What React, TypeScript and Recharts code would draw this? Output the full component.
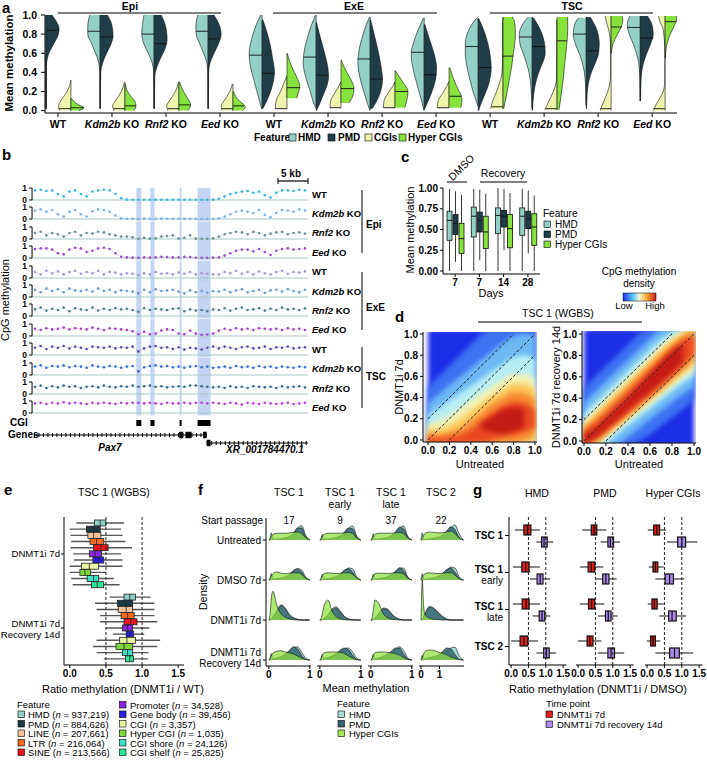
import React from "react";
import {
  ComposedChart,
  BarChart,
  ScatterChart,
  Area,
  Bar,
  Scatter,
  XAxis,
  YAxis,
  ReferenceLine,
  ReferenceArea,
} from "recharts";

const FONT = "'Liberation Sans', Arial, Helvetica, sans-serif";

// ---------- panel a: split violins (knots = [methylation, relative density]) ----------
const aLabels = ["WT", "Kdm2b KO", "Rnf2 KO", "Eed KO", "WT", "Kdm2b KO", "Rnf2 KO", "Eed KO", "WT", "Kdm2b KO", "Rnf2 KO", "Eed KO"];
const aYTicks = [0, 0.2, 0.4, 0.6, 0.8, 1];

const vHMD = [
  [[0.02, 0.02], [0.45, 0.02], [0.55, 0.08], [0.62, 0.22], [0.7, 0.5], [0.8, 0.87], [0.88, 0.97], [0.95, 0.9], [1.0, 0.82]],
  [[0.02, 0.02], [0.4, 0.03], [0.5, 0.1], [0.6, 0.35], [0.7, 0.65], [0.8, 0.95], [0.88, 0.95], [1.0, 0.8]],
  [[0.02, 0.02], [0.4, 0.04], [0.5, 0.15], [0.6, 0.45], [0.7, 0.8], [0.8, 0.95], [0.9, 0.9], [1.0, 0.78]],
  [[0.02, 0.02], [0.4, 0.03], [0.5, 0.1], [0.6, 0.35], [0.7, 0.65], [0.8, 0.92], [0.88, 0.95], [1.0, 0.8]],
  [[0.02, 0.05], [0.1, 0.2], [0.2, 0.4], [0.3, 0.6], [0.4, 0.8], [0.5, 0.95], [0.6, 1.0], [0.7, 0.9], [0.8, 0.7], [0.9, 0.45], [1.0, 0.1]],
  [[0.03, 0.05], [0.1, 0.25], [0.2, 0.45], [0.3, 0.7], [0.4, 0.9], [0.5, 1.0], [0.6, 0.95], [0.75, 0.7], [0.9, 0.35], [1.0, 0.05]],
  [[0.0, 0.03], [0.05, 0.15], [0.2, 0.5], [0.35, 0.8], [0.5, 0.95], [0.6, 0.9], [0.75, 0.65], [0.9, 0.3], [0.98, 0.05]],
  [[0.0, 0.02], [0.05, 0.1], [0.2, 0.4], [0.35, 0.7], [0.5, 0.95], [0.6, 1.0], [0.7, 0.85], [0.85, 0.45], [0.97, 0.05]],
  [[0.05, 0.03], [0.1, 0.15], [0.2, 0.4], [0.3, 0.6], [0.45, 0.85], [0.6, 1.0], [0.7, 1.0], [0.8, 0.85], [0.9, 0.5], [0.97, 0.1]],
  [[0.02, 0.02], [0.1, 0.04], [0.25, 0.1], [0.4, 0.25], [0.5, 0.45], [0.6, 0.7], [0.7, 0.95], [0.8, 1.0], [0.9, 0.75], [0.98, 0.3]],
  [[0.05, 0.02], [0.2, 0.04], [0.35, 0.1], [0.5, 0.3], [0.6, 0.55], [0.7, 0.85], [0.8, 1.0], [0.9, 0.9], [0.97, 0.6]],
  [[0.1, 0.02], [0.35, 0.04], [0.5, 0.12], [0.6, 0.3], [0.7, 0.55], [0.8, 0.85], [0.9, 1.0], [0.99, 0.8]],
];
const mHMD = [[0.87, 0.97], [0.83, 0.95], [0.8, 0.95], [0.83, 0.93], [0.58, 1.0], [0.56, 0.98], [0.54, 0.95], [0.61, 1.0], [0.67, 1.0], [0.77, 1.0], [0.8, 1.0], [0.87, 1.0]];

const vPMD = [
  [[0.02, 0.02], [0.45, 0.02], [0.55, 0.1], [0.62, 0.28], [0.7, 0.6], [0.8, 0.95], [0.86, 1.0], [0.93, 0.8], [1.0, 0.45]],
  [[0.02, 0.02], [0.4, 0.05], [0.5, 0.2], [0.6, 0.5], [0.7, 0.85], [0.78, 1.0], [0.9, 0.9], [1.0, 0.55]],
  [[0.02, 0.02], [0.35, 0.05], [0.45, 0.2], [0.55, 0.5], [0.65, 0.85], [0.75, 1.0], [0.9, 0.85], [1.0, 0.55]],
  [[0.02, 0.02], [0.4, 0.04], [0.5, 0.15], [0.6, 0.45], [0.7, 0.8], [0.8, 1.0], [0.9, 0.85], [1.0, 0.45]],
  [[0.02, 0.05], [0.1, 0.35], [0.2, 0.65], [0.3, 0.85], [0.4, 0.95], [0.55, 0.8], [0.7, 0.6], [0.85, 0.3], [0.95, 0.05]],
  [[0.0, 0.02], [0.05, 0.2], [0.15, 0.5], [0.25, 0.8], [0.35, 0.95], [0.45, 0.9], [0.6, 0.65], [0.8, 0.25], [0.92, 0.03]],
  [[0.02, 0.15], [0.1, 0.5], [0.2, 0.8], [0.33, 0.95], [0.45, 0.85], [0.6, 0.65], [0.8, 0.3], [0.95, 0.03]],
  [[0.02, 0.05], [0.1, 0.3], [0.2, 0.6], [0.35, 0.9], [0.45, 0.95], [0.6, 0.75], [0.75, 0.4], [0.9, 0.05]],
  [[0.0, 0.03], [0.05, 0.15], [0.15, 0.45], [0.3, 0.85], [0.45, 1.0], [0.55, 0.95], [0.7, 0.75], [0.85, 0.4], [0.96, 0.05]],
  [[0.0, 0.02], [0.1, 0.06], [0.25, 0.2], [0.4, 0.5], [0.5, 0.8], [0.6, 1.0], [0.7, 0.95], [0.85, 0.6], [0.97, 0.1]],
  [[0.02, 0.02], [0.1, 0.04], [0.25, 0.12], [0.4, 0.4], [0.5, 0.7], [0.6, 0.95], [0.7, 1.0], [0.85, 0.8], [0.98, 0.3]],
  [[0.1, 0.02], [0.35, 0.07], [0.5, 0.25], [0.6, 0.5], [0.7, 0.8], [0.8, 1.0], [0.9, 0.9], [0.99, 0.55]],
];
const mPMD = [[0.84, 1.0], [0.77, 1.0], [0.7, 0.97], [0.75, 0.93], [0.39, 0.95], [0.37, 0.95], [0.33, 0.95], [0.375, 0.95], [0.45, 1.0], [0.67, 1.0], [0.625, 0.98], [0.76, 1.0]];

const vCGI = [
  [[0.0, 0.9], [0.05, 0.95], [0.1, 0.8], [0.15, 0.55], [0.2, 0.3], [0.27, 0.08], [0.32, 0.02]],
  [[0.0, 0.85], [0.05, 0.95], [0.1, 0.75], [0.15, 0.5], [0.2, 0.28], [0.3, 0.04]],
  [[0.0, 0.85], [0.05, 0.95], [0.1, 0.75], [0.15, 0.5], [0.2, 0.28], [0.3, 0.04]],
  [[0.0, 0.85], [0.05, 0.9], [0.1, 0.7], [0.15, 0.45], [0.2, 0.25], [0.28, 0.04]],
  [[0.02, 0.9], [0.1, 0.85], [0.2, 0.5], [0.3, 0.2], [0.36, 0.02]],
  [[0.03, 0.85], [0.1, 0.8], [0.18, 0.5], [0.25, 0.2], [0.3, 0.02]],
  [[0.03, 0.9], [0.1, 0.85], [0.18, 0.55], [0.25, 0.2], [0.3, 0.02]],
  [[0.03, 0.9], [0.1, 0.85], [0.18, 0.5], [0.25, 0.2], [0.3, 0.02]],
  [[0.02, 0.95], [0.1, 0.8], [0.2, 0.5], [0.3, 0.25], [0.4, 0.08], [0.6, 0.03], [0.9, 0.03], [0.97, 0.02]],
  [[0.01, 0.95], [0.08, 0.7], [0.15, 0.45], [0.25, 0.15], [0.35, 0.04], [0.7, 0.02], [0.95, 0.02]],
  [[0.0, 0.85], [0.05, 0.7], [0.15, 0.4], [0.25, 0.15], [0.35, 0.05], [0.7, 0.05], [0.85, 0.2], [0.95, 0.4], [0.99, 0.45]],
  [[0.0, 0.9], [0.05, 0.75], [0.12, 0.45], [0.2, 0.15], [0.3, 0.03], [0.6, 0.02], [0.85, 0.15], [0.95, 0.45], [0.99, 0.5]],
];
const mCGI = [[0.02, 0.92], [0.02, 0.87], [0.02, 0.87], [0.02, 0.87], [0.02, 0.9], [0.03, 0.85], [0.03, 0.9], [0.03, 0.9], [0.04, 0.9], [0.02, 0.92], [0.02, 0.82], [0.02, 0.9]];

const vHYP = [
  [[0.0, 0.6], [0.03, 1.0], [0.06, 0.6], [0.1, 0.2], [0.13, 0.04]],
  [[0.0, 0.7], [0.05, 0.85], [0.1, 0.75], [0.15, 0.45], [0.2, 0.2], [0.28, 0.04]],
  [[0.0, 0.7], [0.06, 0.9], [0.12, 0.7], [0.2, 0.35], [0.3, 0.05]],
  [[0.0, 0.75], [0.04, 0.95], [0.1, 0.5], [0.15, 0.2], [0.2, 0.04]],
  [[0.13, 0.75], [0.2, 0.9], [0.25, 1.0], [0.35, 0.75], [0.45, 0.4], [0.55, 0.12], [0.6, 0.02]],
  [[0.08, 0.6], [0.15, 0.9], [0.23, 1.0], [0.3, 0.85], [0.4, 0.45], [0.5, 0.1], [0.53, 0.02]],
  [[0.03, 0.75], [0.1, 0.9], [0.2, 1.0], [0.3, 0.6], [0.38, 0.2], [0.42, 0.02]],
  [[0.03, 0.9], [0.1, 1.0], [0.15, 0.95], [0.25, 0.6], [0.35, 0.3], [0.45, 0.05]],
  [[0.02, 0.05], [0.15, 0.25], [0.3, 0.45], [0.45, 0.65], [0.6, 0.8], [0.8, 0.95], [0.92, 0.9], [0.98, 0.7]],
  [[0.01, 0.15], [0.15, 0.3], [0.3, 0.45], [0.5, 0.6], [0.7, 0.75], [0.85, 0.82], [0.98, 0.82]],
  [[0.6, 0.02], [0.7, 0.15], [0.8, 0.5], [0.88, 0.8], [0.95, 0.9], [0.99, 0.85]],
  [[0.55, 0.02], [0.7, 0.15], [0.8, 0.4], [0.9, 0.75], [0.97, 0.9], [0.99, 0.85]],
];
const mHYP = [[0.03, 1.0], [0.05, 0.85], [0.06, 0.9], [0.05, 0.85], [0.24, 1.0], [0.23, 1.0], [0.2, 1.0], [0.15, 0.97], [0.57, 0.8], [0.73, 0.77], [0.875, 0.85], [0.93, 0.88]];

// ---------- panel b: CpG methylation tracks (48 bins across the locus) ----------
const bLabels = ["WT", "Kdm2b KO", "Rnf2 KO", "Eed KO", "WT", "Kdm2b KO", "Rnf2 KO", "Eed KO", "WT", "Kdm2b KO", "Rnf2 KO", "Eed KO"];
const bColors = ["#3cb6dc", "#7eb2e2", "#6e8e9a", "#9a50c8", "#a696d2", "#6a9acc", "#4f7f8c", "#a244c8", "#5c4aa6", "#3c6cd8", "#3c6c8e", "#b444d2"];
const bTracks = [
  [0.8, 0.85, 0.75, 0.8, 0.5, 0.3, 0.7, 0.8, 0.5, 0.3, 0.7, 0.8, 0.85, 0.8, 0.5, 0.15,
    0.03, 0.02, 0.02, 0.02, 0.02, 0.03, 0.02, 0.02, 0.02, 0.03, 0.02, 0.02, 0.02, 0.02, 0.02, 0.03,
    0.1, 0.3, 0.5, 0.6, 0.7, 0.75, 0.6, 0.7, 0.4, 0.2, 0.6, 0.8, 0.8, 0.75, 0.85, 0.8],
  [0.7, 0.8, 0.6, 0.75, 0.4, 0.2, 0.6, 0.75, 0.4, 0.2, 0.65, 0.8, 0.75, 0.6, 0.3, 0.05,
    0.02, 0.02, 0.02, 0.03, 0.02, 0.02, 0.03, 0.02, 0.02, 0.02, 0.03, 0.02, 0.02, 0.02, 0.02, 0.02,
    0.05, 0.2, 0.4, 0.6, 0.7, 0.6, 0.5, 0.75, 0.35, 0.15, 0.5, 0.75, 0.7, 0.6, 0.8, 0.7],
  [0.5, 0.6, 0.3, 0.5, 0.4, 0.2, 0.5, 0.6, 0.3, 0.5, 0.45, 0.6, 0.55, 0.4, 0.3, 0.2,
    0.2, 0.15, 0.02, 0.1, 0.03, 0.05, 0.2, 0.25, 0.3, 0.05, 0.1, 0.3, 0.03, 0.02, 0.02, 0.05,
    0.2, 0.4, 0.5, 0.6, 0.55, 0.4, 0.6, 0.5, 0.3, 0.45, 0.55, 0.6, 0.4, 0.5, 0.55, 0.45],
  [0.75, 0.8, 0.8, 0.7, 0.4, 0.3, 0.7, 0.85, 0.8, 0.5, 0.6, 0.8, 0.85, 0.75, 0.4, 0.1,
    0.05, 0.03, 0.02, 0.05, 0.03, 0.05, 0.1, 0.08, 0.05, 0.05, 0.1, 0.08, 0.02, 0.02, 0.02, 0.03,
    0.05, 0.2, 0.4, 0.6, 0.7, 0.7, 0.55, 0.75, 0.5, 0.25, 0.6, 0.75, 0.8, 0.7, 0.75, 0.8],
  [0.5, 0.3, 0.6, 0.4, 0.55, 0.3, 0.5, 0.6, 0.35, 0.5, 0.4, 0.6, 0.3, 0.5, 0.45, 0.3,
    0.4, 0.35, 0.25, 0.4, 0.3, 0.5, 0.35, 0.4, 0.3, 0.45, 0.35, 0.5, 0.3, 0.4, 0.35, 0.3,
    0.3, 0.5, 0.4, 0.6, 0.35, 0.5, 0.3, 0.55, 0.4, 0.3, 0.5, 0.6, 0.35, 0.5, 0.45, 0.55],
  [0.6, 0.4, 0.7, 0.5, 0.65, 0.4, 0.7, 0.55, 0.5, 0.6, 0.45, 0.7, 0.5, 0.6, 0.4, 0.55,
    0.5, 0.45, 0.3, 0.6, 0.4, 0.65, 0.5, 0.55, 0.6, 0.45, 0.3, 0.55, 0.4, 0.5, 0.35, 0.5,
    0.45, 0.6, 0.4, 0.55, 0.65, 0.4, 0.5, 0.6, 0.35, 0.55, 0.6, 0.45, 0.65, 0.5, 0.4, 0.6],
  [0.55, 0.7, 0.45, 0.6, 0.5, 0.7, 0.4, 0.65, 0.55, 0.5, 0.7, 0.45, 0.6, 0.5, 0.65, 0.55,
    0.6, 0.5, 0.35, 0.65, 0.5, 0.6, 0.55, 0.5, 0.6, 0.65, 0.4, 0.55, 0.45, 0.5, 0.4, 0.55,
    0.5, 0.65, 0.45, 0.6, 0.7, 0.5, 0.55, 0.65, 0.45, 0.6, 0.5, 0.7, 0.55, 0.6, 0.5, 0.65],
  [0.6, 0.5, 0.65, 0.55, 0.6, 0.7, 0.55, 0.65, 0.6, 0.55, 0.7, 0.6, 0.5, 0.65, 0.6, 0.55,
    0.5, 0.4, 0.15, 0.35, 0.15, 0.2, 0.45, 0.55, 0.5, 0.2, 0.15, 0.45, 0.2, 0.1, 0.12, 0.2,
    0.45, 0.6, 0.5, 0.65, 0.55, 0.6, 0.5, 0.65, 0.6, 0.55, 0.6, 0.5, 0.65, 0.55, 0.6, 0.5],
  [0.6, 0.75, 0.5, 0.7, 0.6, 0.75, 0.55, 0.7, 0.6, 0.5, 0.7, 0.65, 0.6, 0.7, 0.55, 0.65,
    0.6, 0.7, 0.3, 0.55, 0.7, 0.75, 0.6, 0.65, 0.5, 0.65, 0.45, 0.6, 0.55, 0.45, 0.6, 0.7,
    0.55, 0.7, 0.6, 0.5, 0.65, 0.7, 0.55, 0.6, 0.7, 0.5, 0.65, 0.6, 0.7, 0.55, 0.6, 0.65],
  [0.7, 0.8, 0.6, 0.75, 0.7, 0.8, 0.65, 0.75, 0.7, 0.6, 0.8, 0.7, 0.65, 0.75, 0.7, 0.6,
    0.7, 0.75, 0.3, 0.65, 0.75, 0.8, 0.7, 0.75, 0.65, 0.7, 0.6, 0.7, 0.75, 0.65, 0.7, 0.6,
    0.65, 0.7, 0.6, 0.75, 0.65, 0.7, 0.6, 0.75, 0.65, 0.7, 0.6, 0.7, 0.65, 0.6, 0.7, 0.65],
  [0.6, 0.7, 0.5, 0.65, 0.55, 0.7, 0.6, 0.65, 0.5, 0.6, 0.65, 0.55, 0.7, 0.6, 0.55, 0.65,
    0.6, 0.7, 0.6, 0.65, 0.7, 0.6, 0.65, 0.55, 0.6, 0.65, 0.6, 0.7, 0.7, 0.65, 0.6, 0.55,
    0.6, 0.5, 0.65, 0.55, 0.6, 0.5, 0.65, 0.6, 0.55, 0.6, 0.5, 0.65, 0.55, 0.6, 0.65, 0.55],
  [0.8, 0.85, 0.75, 0.85, 0.8, 0.9, 0.8, 0.85, 0.8, 0.75, 0.85, 0.8, 0.85, 0.8, 0.75, 0.85,
    0.8, 0.85, 0.85, 0.8, 0.85, 0.8, 0.75, 0.85, 0.8, 0.8, 0.85, 0.8, 0.85, 0.85, 0.8, 0.85,
    0.8, 0.75, 0.85, 0.8, 0.7, 0.85, 0.8, 0.75, 0.85, 0.8, 0.75, 0.8, 0.85, 0.75, 0.8, 0.85],
];
const cgiRegions = [[0.378, 0.396], [0.429, 0.444], [0.535, 0.542], [0.6, 0.647]];
const pax7Span = [0.007, 0.633];
const xrSpan = [0.633, 1.0];
const pax7Exons = [[0.533, 0.548], [0.556, 0.578], [0.62, 0.633]];
const xrExons = [[0.633, 0.647]];

// ---------- panel c: boxplots [min, q1, median, q3, max] ----------
const cCats = ["7", "7", "14", "28"];
const cHMD = [[0, 0.37, 0.61, 0.72, 0.99], [0, 0.41, 0.66, 0.77, 0.99], [0, 0.45, 0.67, 0.76, 1.0], [0, 0.43, 0.66, 0.76, 0.99]];
const cPMD = [[0.11, 0.44, 0.57, 0.68, 0.96], [0.13, 0.47, 0.61, 0.71, 0.98], [0.25, 0.53, 0.66, 0.73, 0.99], [0.21, 0.51, 0.63, 0.72, 0.97]];
const cHYP = [[0, 0.21, 0.39, 0.575, 0.92], [0, 0.27, 0.47, 0.66, 0.93], [0, 0.28, 0.51, 0.68, 0.94], [0, 0.31, 0.53, 0.69, 0.91]];

// ---------- panel d: density contour bands [lo, hi] per level ----------
const dX = [0, 0.1, 0.2, 0.3, 0.4, 0.5, 0.6, 0.7, 0.8, 0.9, 1];
const dColors = ["#1c2ee6", "#3d72f2", "#6cb9f6", "#b8eff5", "#f4f2b2", "#fcc85a", "#f88a34", "#ea4a22", "#c41c16"];
const N = null;
const dLeftLo = [
  [-0.05, -0.05, -0.05, -0.05, -0.05, -0.05, -0.05, -0.05, -0.05, -0.05, -0.05],
  [-0.03, -0.03, -0.03, -0.03, -0.03, -0.03, -0.03, -0.03, -0.03, -0.03, -0.03],
  [-0.03, -0.03, -0.03, -0.03, -0.03, -0.03, -0.03, -0.03, -0.03, -0.03, -0.03],
  [-0.03, -0.03, -0.03, -0.03, -0.03, -0.03, -0.03, -0.03, -0.03, -0.03, -0.03],
  [-0.03, -0.03, -0.03, -0.03, -0.03, -0.03, -0.03, -0.03, -0.03, -0.03, -0.03],
  [-0.03, -0.03, -0.03, -0.03, -0.03, -0.03, -0.03, -0.03, -0.03, -0.03, -0.03],
  [-0.03, -0.03, -0.03, -0.03, -0.03, -0.03, -0.03, -0.03, -0.03, 0.0, 0.05],
  [-0.03, -0.03, -0.03, -0.03, -0.03, -0.03, 0.0, 0.03, 0.05, 0.08, 0.12],
  [N, N, N, N, N, 0.1, 0.07, 0.06, 0.08, 0.12, N],
];
const dLeftHi = [
  [1.05, 1.05, 1.05, 1.05, 1.05, 1.05, 1.05, 1.05, 1.05, 1.05, 1.05],
  [0.5, 0.6, 0.7, 0.8, 0.9, 1.0, 1.05, 1.05, 1.05, 1.05, 1.05],
  [0.35, 0.43, 0.52, 0.6, 0.68, 0.76, 0.84, 0.92, 0.98, 1.0, 0.98],
  [0.24, 0.3, 0.37, 0.44, 0.51, 0.58, 0.65, 0.72, 0.78, 0.8, 0.76],
  [0.16, 0.18, 0.23, 0.3, 0.37, 0.44, 0.51, 0.57, 0.62, 0.62, 0.58],
  [0.11, 0.1, 0.14, 0.2, 0.27, 0.35, 0.42, 0.48, 0.53, 0.53, 0.48],
  [0.07, 0.05, 0.07, 0.11, 0.18, 0.26, 0.34, 0.4, 0.45, 0.44, 0.38],
  [0.04, 0.02, 0.03, 0.05, 0.1, 0.18, 0.26, 0.32, 0.36, 0.35, 0.28],
  [N, N, N, N, N, 0.16, 0.22, 0.28, 0.31, 0.29, N],
];
const dRightLo = [
  [-0.05, -0.05, -0.05, -0.05, -0.05, -0.05, -0.05, -0.05, -0.05, -0.05, -0.05],
  [-0.03, -0.03, -0.03, -0.03, -0.03, 0.0, 0.06, 0.14, 0.22, 0.3, 0.38],
  [-0.03, -0.03, -0.03, -0.03, 0.04, 0.12, 0.2, 0.28, 0.36, 0.44, 0.5],
  [-0.03, -0.03, -0.03, 0.06, 0.14, 0.22, 0.3, 0.38, 0.46, 0.54, 0.6],
  [-0.03, -0.03, 0.03, 0.11, 0.19, 0.27, 0.35, 0.43, 0.51, 0.59, 0.66],
  [-0.03, -0.03, 0.05, 0.13, 0.22, 0.3, 0.38, 0.46, 0.55, 0.63, 0.71],
  [-0.03, -0.01, 0.07, 0.16, 0.24, 0.32, 0.41, 0.49, 0.58, 0.67, 0.76],
  [-0.03, 0.02, 0.1, 0.18, 0.27, 0.35, 0.43, 0.52, 0.61, 0.71, 0.81],
  [-0.03, 0.03, 0.11, 0.2, 0.29, 0.38, 0.46, 0.55, 0.64, 0.74, N],
];
const dRightHi = [
  [1.05, 1.05, 1.05, 1.05, 1.05, 1.05, 1.05, 1.05, 1.05, 1.05, 1.05],
  [0.5, 0.6, 0.7, 0.8, 0.9, 1.0, 1.05, 1.05, 1.05, 1.05, 1.05],
  [0.36, 0.46, 0.56, 0.66, 0.76, 0.86, 0.95, 1.05, 1.05, 1.05, 1.05],
  [0.26, 0.36, 0.46, 0.56, 0.66, 0.76, 0.86, 0.95, 1.02, 1.05, 1.05],
  [0.19, 0.29, 0.39, 0.49, 0.59, 0.69, 0.79, 0.89, 0.97, 1.03, 1.05],
  [0.15, 0.25, 0.35, 0.45, 0.55, 0.65, 0.75, 0.85, 0.94, 1.01, 1.05],
  [0.12, 0.21, 0.31, 0.41, 0.51, 0.61, 0.71, 0.81, 0.9, 0.98, 1.02],
  [0.09, 0.17, 0.26, 0.36, 0.46, 0.56, 0.66, 0.76, 0.86, 0.94, 0.99],
  [0.06, 0.12, 0.21, 0.31, 0.41, 0.52, 0.63, 0.74, 0.84, 0.91, N],
];
const dTicks = [0, 0.2, 0.4, 0.6, 0.8, 1];

// ---------- panel e ----------
const eFeatures = ["HMD", "PMD", "LINE", "LTR", "SINE", "Promoter", "Gene body", "CGI", "Hyper CGI", "CGI shore", "CGI shelf"];
const eCounts = ["937,219", "884,626", "207,661", "216,064", "213,566", "34,528", "39,456", "3,357", "1,035", "24,126", "25,825"];
const eColors = ["#8fd0c6", "#1d3a44", "#f7c49c", "#f26a22", "#e8141a", "#8a24e0", "#2a1ee0", "#e8f4a2", "#7ed63a", "#3ee0c4", "#2ee69a"];
const e7d = [
  [0.09, 0.34, 0.42, 0.5, 0.75], [0, 0.23, 0.33, 0.42, 0.71], [0.01, 0.25, 0.33, 0.43, 0.73], [0.02, 0.28, 0.37, 0.47, 0.77],
  [0.01, 0.33, 0.43, 0.53, 0.86], [0.05, 0.27, 0.35, 0.44, 0.71], [0.06, 0.32, 0.4, 0.47, 0.73], [0, 0.16, 0.27, 0.4, 0.73],
  [0, 0.14, 0.21, 0.29, 0.5], [0.02, 0.24, 0.33, 0.4, 0.61], [0.04, 0.3, 0.38, 0.47, 0.69],
];
const eRec = [
  [0.55, 0.75, 0.83, 0.91, 1.12], [0.35, 0.66, 0.77, 0.87, 1.17], [0.37, 0.67, 0.78, 0.87, 1.17], [0.42, 0.71, 0.8, 0.89, 1.17],
  [0.42, 0.75, 0.84, 0.93, 1.21], [0.5, 0.73, 0.8, 0.87, 1.1], [0.6, 0.78, 0.83, 0.88, 1.03], [0.37, 0.69, 0.79, 0.91, 1.25],
  [0.32, 0.64, 0.75, 0.87, 1.21], [0.37, 0.73, 0.8, 0.87, 1.09], [0.47, 0.77, 0.83, 0.88, 1.08],
];
const ratioTicks = [0, 0.5, 1, 1.5];

// ---------- panel f: ridge densities [row][feature][x] ; rows bottom->top ----------
const fGrid = [0, 0.03, 0.06, 0.1, 0.2, 0.3, 0.4, 0.5, 0.6, 0.7, 0.8, 0.9, 1.0];
const fGrid4 = [0, 0.07, 0.14, 0.23, 0.46, 0.69, 0.92, 1.15, 1.38, 1.61, 1.84, 2.07, 2.3];
const fRowLabels = [["DNMT1i 7d", "Recovery 14d"], ["DNMT1i 7d"], ["DMSO 7d"], ["Untreated"]];
const fTSC1 = [
  [[0, 0.05, 0.16, 0.03, 0.05, 0.08, 0.12, 0.2, 0.3, 0.33, 0.2, 0.05, 0], [0, 0, 0.01, 0.02, 0.05, 0.09, 0.15, 0.24, 0.33, 0.28, 0.12, 0.02, 0], [0, 0.03, 0.1, 0.17, 0.22, 0.23, 0.2, 0.18, 0.15, 0.1, 0.05, 0.01, 0]],
  [[0, 0.01, 0.03, 0.08, 0.25, 0.38, 0.3, 0.15, 0.06, 0.02, 0, 0, 0], [0, 0, 0.02, 0.06, 0.22, 0.36, 0.28, 0.12, 0.05, 0.01, 0, 0, 0], [0, 0.15, 0.55, 0.72, 0.35, 0.15, 0.07, 0.03, 0.01, 0, 0, 0, 0]],
  [[0, 0.05, 0.16, 0.02, 0.03, 0.04, 0.07, 0.12, 0.22, 0.29, 0.25, 0.08, 0], [0, 0, 0.01, 0.02, 0.03, 0.05, 0.08, 0.14, 0.24, 0.27, 0.2, 0.05, 0], [0, 0.03, 0.1, 0.16, 0.2, 0.17, 0.16, 0.17, 0.18, 0.18, 0.14, 0.05, 0]],
  [[0, 0.05, 0.18, 0.02, 0.02, 0.03, 0.05, 0.08, 0.14, 0.3, 0.36, 0.12, 0], [0, 0, 0.01, 0.01, 0.02, 0.03, 0.05, 0.09, 0.17, 0.3, 0.3, 0.08, 0], [0, 0.02, 0.08, 0.14, 0.17, 0.17, 0.17, 0.18, 0.19, 0.2, 0.16, 0.06, 0]],
];
const fTSC1early = [
  [[0, 0.04, 0.14, 0.03, 0.06, 0.1, 0.14, 0.2, 0.28, 0.3, 0.2, 0.05, 0], [0, 0, 0.01, 0.03, 0.06, 0.1, 0.16, 0.25, 0.3, 0.26, 0.12, 0.02, 0], [0, 0.03, 0.12, 0.18, 0.2, 0.2, 0.2, 0.19, 0.16, 0.1, 0.05, 0.01, 0]],
  [[0, 0, 0.01, 0.04, 0.14, 0.28, 0.33, 0.22, 0.09, 0.03, 0.01, 0, 0], [0, 0, 0.01, 0.03, 0.12, 0.26, 0.3, 0.2, 0.08, 0.02, 0, 0, 0], [0, 0.04, 0.15, 0.35, 0.5, 0.22, 0.08, 0.03, 0.01, 0, 0, 0, 0]],
  [[0, 0.04, 0.14, 0.02, 0.03, 0.05, 0.08, 0.13, 0.22, 0.3, 0.28, 0.08, 0], [0, 0, 0.01, 0.02, 0.03, 0.05, 0.09, 0.15, 0.25, 0.28, 0.2, 0.05, 0], [0, 0.03, 0.1, 0.16, 0.18, 0.17, 0.16, 0.17, 0.18, 0.18, 0.14, 0.05, 0]],
  [[0, 0.04, 0.14, 0.02, 0.03, 0.04, 0.06, 0.1, 0.18, 0.3, 0.35, 0.1, 0], [0, 0, 0.01, 0.01, 0.02, 0.04, 0.06, 0.11, 0.2, 0.3, 0.28, 0.07, 0], [0, 0.02, 0.08, 0.14, 0.17, 0.17, 0.17, 0.17, 0.18, 0.19, 0.16, 0.05, 0]],
];
const fTSC1late = [
  [[0, 0.04, 0.14, 0.03, 0.05, 0.08, 0.12, 0.18, 0.26, 0.33, 0.24, 0.06, 0], [0, 0, 0.01, 0.02, 0.05, 0.09, 0.14, 0.22, 0.3, 0.3, 0.15, 0.03, 0], [0, 0.03, 0.12, 0.18, 0.2, 0.2, 0.19, 0.18, 0.16, 0.12, 0.06, 0.01, 0]],
  [[0, 0, 0.02, 0.05, 0.18, 0.3, 0.28, 0.17, 0.07, 0.02, 0, 0, 0], [0, 0, 0.01, 0.04, 0.16, 0.28, 0.26, 0.15, 0.06, 0.02, 0, 0, 0], [0, 0.05, 0.25, 0.5, 0.4, 0.16, 0.06, 0.02, 0.01, 0, 0, 0, 0]],
  [[0, 0.04, 0.14, 0.02, 0.03, 0.05, 0.07, 0.12, 0.2, 0.3, 0.3, 0.08, 0], [0, 0, 0.01, 0.02, 0.03, 0.05, 0.08, 0.14, 0.22, 0.3, 0.24, 0.06, 0], [0, 0.03, 0.1, 0.16, 0.17, 0.17, 0.16, 0.17, 0.18, 0.18, 0.15, 0.05, 0]],
  [[0, 0.05, 0.16, 0.02, 0.03, 0.04, 0.06, 0.1, 0.18, 0.3, 0.35, 0.1, 0], [0, 0, 0.01, 0.01, 0.02, 0.04, 0.06, 0.11, 0.2, 0.32, 0.28, 0.07, 0], [0, 0.02, 0.08, 0.14, 0.17, 0.17, 0.17, 0.17, 0.18, 0.19, 0.16, 0.05, 0]],
];
const fTSC2 = [
  [[0, 0.12, 0.03, 0.04, 0.06, 0.08, 0.11, 0.15, 0.22, 0.3, 0.32, 0.1, 0], [0, 0, 0.01, 0.02, 0.05, 0.08, 0.12, 0.2, 0.3, 0.28, 0.14, 0.02, 0], [0, 0.05, 0.15, 0.22, 0.25, 0.24, 0.2, 0.17, 0.13, 0.08, 0.04, 0.01, 0]],
  [[0, 0.02, 0.08, 0.18, 0.34, 0.3, 0.2, 0.1, 0.03, 0, 0, 0, 0], [0, 0.02, 0.07, 0.16, 0.32, 0.28, 0.17, 0.08, 0.02, 0, 0, 0, 0], [0, 1.0, 0.35, 0.12, 0.05, 0.02, 0.01, 0, 0, 0, 0, 0, 0]],
  [[0, 0.16, 0.03, 0.02, 0.03, 0.05, 0.08, 0.13, 0.22, 0.32, 0.3, 0.08, 0], [0, 0, 0.01, 0.02, 0.03, 0.05, 0.09, 0.16, 0.26, 0.3, 0.2, 0.04, 0], [0, 0.05, 0.12, 0.16, 0.18, 0.17, 0.16, 0.17, 0.18, 0.18, 0.12, 0.03, 0]],
  [[0, 0.18, 0.03, 0.02, 0.03, 0.04, 0.06, 0.1, 0.18, 0.3, 0.38, 0.15, 0], [0, 0, 0.01, 0.01, 0.02, 0.04, 0.06, 0.12, 0.22, 0.33, 0.26, 0.06, 0], [0, 0.05, 0.12, 0.17, 0.2, 0.19, 0.18, 0.18, 0.2, 0.22, 0.16, 0.05, 0]],
];

// ---------- panel g ----------
const gRowLabels = [["TSC 1"], ["TSC 1", "early"], ["TSC 1", "late"], ["TSC 2"]];
const gHMD7d = [[0.11, 0.37, 0.47, 0.57, 0.83], [0.05, 0.31, 0.42, 0.52, 0.83], [0.05, 0.32, 0.43, 0.52, 0.83], [0, 0.26, 0.37, 0.48, 0.78]];
const gHMDrec = [[0.73, 0.88, 0.95, 1.04, 1.21], [0.54, 0.75, 0.84, 0.92, 1.13], [0.62, 0.81, 0.89, 0.97, 1.13], [0.73, 0.94, 1.02, 1.1, 1.3]];
const gPMD7d = [[0.12, 0.38, 0.46, 0.54, 0.81], [0.05, 0.29, 0.38, 0.48, 0.73], [0.05, 0.3, 0.39, 0.48, 0.76], [0, 0.26, 0.34, 0.43, 0.67]];
const gPMDrec = [[0.65, 0.86, 0.93, 1.02, 1.21], [0.52, 0.71, 0.8, 0.89, 1.11], [0.57, 0.79, 0.87, 0.95, 1.14], [0.57, 0.86, 0.95, 1.05, 1.33]];
const gHYP7d = [[0.02, 0.19, 0.28, 0.36, 0.55], [0.05, 0.17, 0.24, 0.31, 0.48], [0.02, 0.14, 0.21, 0.29, 0.48], [0, 0.1, 0.17, 0.24, 0.38]];
const gHYPrec = [[0.57, 0.88, 1.0, 1.11, 1.45], [0.24, 0.52, 0.65, 0.76, 1.07], [0.35, 0.62, 0.72, 0.84, 1.12], [0.24, 0.65, 0.79, 0.93, 1.33]];

// ---------- shared bits ----------
const COL = { hmd: "#93d1c7", pmd: "#1f3d48", cgi: "#eef4ab", hyp: "#86e23c", red: "#e01a1a", purple: "#a98ae8" };
const TICK = { fontSize: 10, fill: "#000", fontWeight: 700 };

const Pos = ({ l, t, children, cls }: any) => (
  <div className={cls} style={{ position: "absolute", left: l, top: t }}>
    {children}
  </div>
);

const geneLabel = (label: string) => {
  if (label === "WT") return "WT";
  const [g, ...rest] = label.split(" ");
  return (
    <>
      <tspan fontStyle="italic">{g}</tspan>
      <tspan>{"\u00a0" + rest.join(" ")}</tspan>
    </>
  );
};

// vertical box (horizontal layout, range bar [min, max])
const vBox = (key: string, color: string) => (p: any) => {
  const s = p.payload && p.payload[key];
  if (!s) return <g />;
  const [lo, q1, md, q3, hi] = s;
  const py = (v: number) => p.y + p.height - ((v - lo) / (hi - lo)) * p.height;
  const cx = p.x + p.width / 2;
  return (
    <g>
      <line x1={cx} x2={cx} y1={py(lo)} y2={py(hi)} stroke="#222" strokeWidth={0.9} />
      <rect x={p.x} y={py(q3)} width={p.width} height={py(q1) - py(q3)} fill={color} stroke="#111" strokeWidth={0.8} />
      <line x1={p.x} x2={p.x + p.width} y1={py(md)} y2={py(md)} stroke="#111" strokeWidth={1} />
    </g>
  );
};

// horizontal box (vertical layout, range bar [min, max])
const hBox = (getS: (d: any) => any, getC: (d: any) => string, o: any) => (p: any) => {
  const s = p.payload ? getS(p.payload) : null;
  if (!s) return <g />;
  const [lo, q1, md, q3, hi] = s;
  const px = (v: number) => p.x + ((v - lo) / (hi - lo)) * p.width;
  const cy = p.y + p.height / 2;
  return (
    <g>
      <line x1={px(lo)} x2={px(hi)} y1={cy} y2={cy} stroke={o.wc} strokeWidth={o.ww} />
      <rect x={px(q1)} y={p.y} width={px(q3) - px(q1)} height={p.height} fill={getC(p.payload)} stroke={o.bc} strokeWidth={o.bw} />
      <line x1={px(md)} x2={px(md)} y1={p.y} y2={p.y + p.height} stroke={o.bc} strokeWidth={o.bw} />
    </g>
  );
};

// ---------- panel a ----------
const HALF = 0.24;
const aHalves = [
  { knots: vHMD, med: mHMD, off: -0.22, side: -1, color: COL.hmd },
  { knots: vPMD, med: mPMD, off: -0.22, side: 1, color: COL.pmd },
  { knots: vCGI, med: mCGI, off: 0.24, side: -1, color: COL.cgi },
  { knots: vHYP, med: mHYP, off: 0.24, side: 1, color: COL.hyp },
];

const ATick = (p: any) => (
  <text x={p.x} y={p.y + 9} textAnchor="middle" fontSize={10.5} fontWeight={700} fill="#000">
    {geneLabel(aLabels[p.payload.value])}
  </text>
);

function ViolinPanel() {
  const areas: any[] = [];
  const meds: any[] = [];
  aHalves.forEach((f, fi) =>
    f.knots.forEach((k, i) => {
      const c = i + f.off;
      areas.push(
        <Area
          key={`v${fi}-${i}`}
          data={k.map(([y, w]) => ({ y, r: [c, c + f.side * w * HALF] }))}
          dataKey="r"
          type="monotone"
          fill={f.color}
          fillOpacity={1}
          stroke="#111"
          strokeWidth={0.6}
          dot={false}
          activeDot={false}
          isAnimationActive={false}
        />
      );
      const [my, mw] = f.med[i];
      meds.push(
        <ReferenceLine
          key={`m${fi}-${i}`}
          segment={[{ x: c, y: my }, { x: c + f.side * mw * HALF, y: my }]}
          stroke="#111"
          strokeWidth={0.9}
        />
      );
    })
  );
  return (
    <ComposedChart layout="vertical" width={690} height={138} margin={{ top: 15, right: 13, bottom: 0, left: 0 }}>
      <XAxis
        type="number"
        domain={[-0.24, 11.46]}
        ticks={aLabels.map((_, i) => i)}
        interval={0}
        tick={(p: any) => <ATick {...p} />}
        tickSize={4}
        height={25}
        stroke="#000"
        allowDataOverflow
      />
      <YAxis
        type="number"
        dataKey="y"
        reversed
        domain={[-0.025, 1]}
        ticks={aYTicks}
        interval={0}
        tickFormatter={(v: number) => v.toFixed(1)}
        width={45}
        tickSize={4}
        tickMargin={4}
        stroke="#000"
        tick={{ ...TICK, fontSize: 10.5 }}
        allowDataOverflow
      />
      {areas}
      {meds}
    </ComposedChart>
  );
}

// ---------- panel b ----------
const TRACK_H = 19.4;
function Track({ vals, color, k }: any) {
  const data = vals.map((v: number, i: number) => ({ x: (i + 0.5) / vals.length, v }));
  return (
    <ScatterChart width={310} height={TRACK_H} margin={{ top: 0, right: 2, bottom: 0, left: 0 }}>
      <XAxis type="number" dataKey="x" domain={[0, 1]} hide />
      <YAxis
        type="number"
        dataKey="v"
        domain={[-0.2, 1.417]}
        ticks={[0, 1]}
        interval={0}
        width={32}
        axisLine={false}
        tickSize={3}
        stroke="#000"
        tick={{ ...TICK, fontSize: 8.5 }}
        allowDataOverflow
      />
      {cgiRegions.map(([a, b], i) => (
        <ReferenceArea key={i} x1={a} x2={b} y1={-0.2} y2={k === 0 ? 1 : 1.417} fill="#a9c3ee" fillOpacity={0.7} stroke="none" ifOverflow="visible" />
      ))}
      <ReferenceLine y={0} stroke="#a7c9c5" strokeWidth={1} />
      <ReferenceLine segment={[{ x: 0, y: 0 }, { x: 0, y: 1 }]} stroke="#000" strokeWidth={1} />
      <Scatter
        data={data}
        isAnimationActive={false}
        line={{ stroke: color, strokeWidth: 0.5, strokeOpacity: 0.5 }}
        shape={(p: any) => <circle cx={p.cx} cy={p.cy} r={1.3} fill={color} />}
      />
    </ScatterChart>
  );
}

function CgiRow() {
  const rows = cgiRegions.flatMap(([a, b]) => [{ x: a, v: 1 }, { x: b, v: 1 }, { x: b, v: null }]);
  return (
    <ComposedChart width={310} height={6} data={rows} margin={{ top: 0, right: 2, bottom: 0, left: 32 }}>
      <XAxis type="number" dataKey="x" domain={[0, 1]} hide />
      <YAxis type="number" domain={[0, 1]} hide />
      <Area dataKey="v" baseValue={0} type="linear" fill="#000" fillOpacity={1} stroke="none" isAnimationActive={false} />
    </ComposedChart>
  );
}

function GeneRow() {
  const rows = [
    ...pax7Exons.flatMap(([a, b]) => [{ x: a, p: [1.1, 1.9] }, { x: b, p: [1.1, 1.9] }, { x: b, p: null }]),
    ...xrExons.flatMap(([a, b]) => [{ x: a, q: [0.1, 0.9] }, { x: b, q: [0.1, 0.9] }, { x: b, q: null }]),
  ];
  return (
    <ComposedChart width={310} height={16} data={rows} margin={{ top: 0, right: 2, bottom: 0, left: 32 }}>
      <XAxis type="number" dataKey="x" domain={[0, 1]} hide />
      <YAxis type="number" domain={[0, 2]} hide />
      <ReferenceLine segment={[{ x: pax7Span[0], y: 1.5 }, { x: pax7Span[1], y: 1.5 }]} stroke="#000" strokeWidth={1} />
      <ReferenceLine segment={[{ x: pax7Span[0], y: 1.5 }, { x: pax7Span[1], y: 1.5 }]} stroke="#000" strokeWidth={4} strokeDasharray="1 3.5" />
      <ReferenceLine segment={[{ x: xrSpan[0], y: 0.5 }, { x: xrSpan[1], y: 0.5 }]} stroke="#000" strokeWidth={1} />
      <ReferenceLine segment={[{ x: xrSpan[0], y: 0.5 }, { x: xrSpan[1], y: 0.5 }]} stroke="#000" strokeWidth={4} strokeDasharray="1 3.5" />
      <Area dataKey="p" type="linear" fill="#000" fillOpacity={1} stroke="none" isAnimationActive={false} />
      <Area dataKey="q" type="linear" fill="#000" fillOpacity={1} stroke="none" isAnimationActive={false} />
    </ComposedChart>
  );
}

// ---------- panel c ----------
function BoxPanel() {
  const data = cCats.map((c, i) => ({ i, h: cHMD[i], p: cPMD[i], y: cHYP[i] }));
  return (
    <BarChart width={147} height={107} data={data} margin={{ top: 5, right: 2, bottom: 0, left: 0 }} barSize={5} barGap={1}>
      <XAxis dataKey="i" tickFormatter={(i: number) => cCats[i]} interval={0} tickSize={3} height={16} stroke="#000" tick={TICK} />
      <YAxis
        type="number"
        domain={[-0.036, 1]}
        ticks={[0, 0.25, 0.5, 0.75, 1]}
        interval={0}
        tickFormatter={(v: number) => v.toFixed(2)}
        width={48}
        tickSize={3}
        stroke="#000"
        tick={TICK}
        allowDataOverflow
      />
      <Bar dataKey={(d: any) => [d.h[0], d.h[4]]} shape={vBox("h", COL.hmd)} isAnimationActive={false} />
      <Bar dataKey={(d: any) => [d.p[0], d.p[4]]} shape={vBox("p", COL.pmd)} isAnimationActive={false} />
      <Bar dataKey={(d: any) => [d.y[0], d.y[4]]} shape={vBox("y", COL.hyp)} isAnimationActive={false} />
    </BarChart>
  );
}

// ---------- panel d ----------
function DensityMap({ lo, hi, xDom, yDom, height }: any) {
  const data = dX.map((x, j) => ({ x, j }));
  return (
    <ComposedChart width={145} height={height} data={data} margin={{ top: 0, right: 8, bottom: 0, left: 0 }}>
      <XAxis type="number" dataKey="x" domain={xDom} ticks={dTicks} interval={0} tickFormatter={(v: number) => v.toFixed(1)} tickSize={3} height={16} stroke="#000" tick={TICK} allowDataOverflow />
      <YAxis type="number" domain={yDom} ticks={dTicks} interval={0} tickFormatter={(v: number) => v.toFixed(1)} tickSize={3} width={23} stroke="#000" tick={TICK} allowDataOverflow />
      {dColors.map((c, l) => (
        <Area
          key={l}
          dataKey={(d: any) => (lo[l][d.j] == null ? null : [lo[l][d.j], hi[l][d.j]])}
          type="monotone"
          fill={c}
          fillOpacity={1}
          stroke="none"
          isAnimationActive={false}
        />
      ))}
      <ReferenceLine segment={[{ x: 0, y: 0 }, { x: 1, y: 1 }]} stroke="#222" strokeDasharray="3 2" strokeWidth={1} />
      <ReferenceLine segment={[{ x: 0, y: 0.2 }, { x: 0.8, y: 1 }]} stroke="#222" strokeDasharray="3 2" strokeWidth={1} />
      <ReferenceLine segment={[{ x: 0.2, y: 0 }, { x: 1, y: 0.8 }]} stroke="#222" strokeDasharray="3 2" strokeWidth={1} />
    </ComposedChart>
  );
}

// ---------- panel e ----------
const eRowsData = [
  ...e7d.map((s, i) => ({ row: `a${i}`, s, c: eColors[i] })),
  { row: "gap", s: null, c: "#fff" },
  ...eRec.map((s, i) => ({ row: `b${i}`, s, c: eColors[i] })),
];
const ETick = (p: any) => {
  const lines = p.payload.value === "a5" ? ["DNMT1i 7d"] : ["DNMT1i 7d", "Recovery 14d"];
  return (
    <text x={p.x} y={p.y} textAnchor="end" fontSize={9.6} fill="#000">
      {lines.length === 1 ? (
        <tspan x={p.x} dy={3.5}>{lines[0]}</tspan>
      ) : (
        <>
          <tspan x={p.x} dy={-1}>{lines[0]}</tspan>
          <tspan x={p.x} dy={11}>{lines[1]}</tspan>
        </>
      )}
    </text>
  );
};
function ForestPanel() {
  return (
    <BarChart layout="vertical" width={192} height={169} data={eRowsData} margin={{ top: 5, right: 8, bottom: 0, left: 0 }} barSize={6} barCategoryGap={0}>
      <XAxis type="number" domain={[-0.08, 1.58]} ticks={ratioTicks} interval={0} tickFormatter={(v: number) => v.toFixed(1)} tickSize={3} height={16} stroke="#000" tick={TICK} allowDataOverflow />
      <YAxis type="category" dataKey="row" ticks={["a5", "b5"]} interval={0} width={64} tickSize={3} tickMargin={1} stroke="#000" tick={(p: any) => <ETick {...p} />} padding={{ top: 3, bottom: 3 }} />
      <ReferenceLine x={0.5} stroke="#222" strokeDasharray="3 2" />
      <ReferenceLine x={1} stroke="#222" strokeDasharray="3 2" />
      <Bar
        dataKey={(d: any) => (d.s ? [d.s[0], d.s[4]] : null)}
        shape={hBox((d) => d.s, (d) => d.c, { wc: "#555", ww: 1.4, bc: "#222", bw: 0.8 })}
        isAnimationActive={false}
      />
    </BarChart>
  );
}

// ---------- panel f ----------
const fFills = [
  { c: "#a7dcd6", o: 1 },
  { c: "#35656e", o: 0.85 },
  { c: "#8fe03e", o: 0.72 },
];
const FTick = (p: any) => {
  const lines = fRowLabels[p.payload.value];
  return (
    <text x={p.x} y={p.y} textAnchor="end" fontSize={10} fill="#000">
      {lines.length === 1 ? (
        <tspan x={p.x} dy={3.5}>{lines[0]}</tspan>
      ) : (
        <>
          <tspan x={p.x} dy={-4}>{lines[0]}</tspan>
          <tspan x={p.x} dy={11}>{lines[1]}</tspan>
        </>
      )}
    </text>
  );
};
function RidgeCol({ dens, grid, xDom, first }: any) {
  const data = grid.map((x: number, j: number) => ({ x, j }));
  const areas: any[] = [];
  for (let r = 3; r >= 0; r--) {
    dens[r].forEach((vals: number[], f: number) =>
      areas.push(
        <Area
          key={`${r}-${f}`}
          dataKey={(d: any) => r + vals[d.j]}
          baseValue={r}
          type="monotone"
          fill={fFills[f].c}
          fillOpacity={fFills[f].o}
          stroke="#111"
          strokeWidth={0.6}
          isAnimationActive={false}
        />
      )
    );
  }
  return (
    <ComposedChart width={first ? 129 : 53} height={162} data={data} margin={{ top: 0, right: 4, bottom: 0, left: first ? 0 : 4 }}>
      <XAxis type="number" dataKey="x" domain={xDom} ticks={[0, 1]} interval={0} tickSize={3} height={14} stroke="#000" tick={TICK} allowDataOverflow />
      <YAxis
        type="number"
        domain={[-0.15, 3.55]}
        ticks={[0, 1, 2, 3]}
        interval={0}
        hide={!first}
        width={80}
        tickSize={3}
        stroke="#000"
        tick={(p: any) => <FTick {...p} />}
        allowDataOverflow
      />
      {areas}
    </ComposedChart>
  );
}

// ---------- panel g ----------
const GTick = (p: any) => {
  const lines = gRowLabels[Number(p.payload.value)];
  return (
    <text x={p.x} y={p.y} textAnchor="end" fontSize={10} fontWeight={700} fill="#000">
      {lines.length === 1 ? (
        <tspan x={p.x} dy={3.5}>{lines[0]}</tspan>
      ) : (
        <>
          <tspan x={p.x} dy={1}>{lines[0]}</tspan>
          <tspan x={p.x} dy={11} fontWeight={400}>{lines[1]}</tspan>
        </>
      )}
    </text>
  );
};
function RatioCol({ a, b, first }: any) {
  const data = a.map((s: number[], i: number) => ({ row: String(i), a: s, b: b[i] }));
  const w = 57.6;
  return (
    <BarChart
      layout="vertical"
      width={first ? 49 + w + 6 : 6 + w + 6}
      height={164}
      data={data}
      margin={{ top: 0, right: 6, bottom: 0, left: first ? 0 : 6 }}
      barSize={10}
      barGap={2}
    >
      <XAxis type="number" domain={[-0.06, 1.6]} ticks={ratioTicks} interval={0} tickFormatter={(v: number) => v.toFixed(1)} tickSize={3} height={16} stroke="#000" tick={TICK} allowDataOverflow />
      <YAxis type="category" dataKey="row" hide={!first} width={49} interval={0} tickSize={4} stroke="#000" tick={(p: any) => <GTick {...p} />} />
      <ReferenceLine x={0.5} stroke="#222" strokeDasharray="3 2" />
      <ReferenceLine x={1} stroke="#222" strokeDasharray="3 2" />
      <Bar dataKey={(d: any) => [d.a[0], d.a[4]]} shape={hBox((d) => d.a, () => COL.red, { wc: "#111", ww: 1, bc: "#111", bw: 1.2 })} isAnimationActive={false} />
      <Bar dataKey={(d: any) => [d.b[0], d.b[4]]} shape={hBox((d) => d.b, () => COL.purple, { wc: "#111", ww: 1, bc: "#111", bw: 1.2 })} isAnimationActive={false} />
    </BarChart>
  );
}

// ---------- overlay text / legends ----------
const Sw = ({ x, y, c, s = 7 }: any) => <rect x={x} y={y} width={s} height={s} fill={c} stroke="#000" strokeWidth={0.6} />;

function Overlay() {
  const letter = (x: number, y: number, t: string) => (
    <text x={x} y={y} fontSize={15} fontWeight={700}>{t}</text>
  );
  const bracketTracks = [[190, 253, "Epi", 228], [272, 330, "ExE", 311], [347, 408, "TSC", 380]];
  const eCol1 = [718, 727.5, 737, 746.5, 756];
  const eCol2 = [708.5, 718, 727.5, 737, 746.5, 756];
  return (
    <svg width={707} height={763} style={{ position: "absolute", left: 0, top: 0, pointerEvents: "none" }} fontFamily={FONT} fill="#000">
      <defs>
        <linearGradient id="cbar" x1="0" x2="1" y1="0" y2="0">
          <stop offset="0" stopColor="#2233ee" />
          <stop offset="0.3" stopColor="#55c8f8" />
          <stop offset="0.5" stopColor="#f6f8d0" />
          <stop offset="0.7" stopColor="#fbb040" />
          <stop offset="1" stopColor="#d01a10" />
        </linearGradient>
      </defs>

      {/* a */}
      {letter(2, 13, "a")}
      <text transform="translate(13,63) rotate(-90)" textAnchor="middle" fontSize={11.5} fontWeight={700}>Mean methylation</text>
      <text x={130} y={10} textAnchor="middle" fontSize={10.5} fontWeight={700}>Epi</text>
      <line x1={58} x2={221} y1={13} y2={13} stroke="#000" />
      <text x={354} y={10} textAnchor="middle" fontSize={10.5} fontWeight={700}>ExE</text>
      <line x1={273} x2={437} y1={13} y2={13} stroke="#000" />
      <text x={572} y={10} textAnchor="middle" fontSize={10.5} fontWeight={700}>TSC</text>
      <line x1={490} x2={653} y1={13} y2={13} stroke="#000" />
      <g fontSize={10} fontWeight={700}>
        <text x={254} y={141}>Feature</text>
        <Sw x={289} y={134} c={COL.hmd} />
        <text x={298} y={141}>HMD</text>
        <Sw x={328} y={134} c={COL.pmd} />
        <text x={338} y={141}>PMD</text>
        <Sw x={365} y={134} c={COL.cgi} />
        <text x={374} y={141}>CGIs</text>
        <Sw x={399} y={134} c={COL.hyp} />
        <text x={408} y={141}>Hyper CGIs</text>
      </g>

      {/* b */}
      {letter(2, 160, "b")}
      <text x={291} y={177} textAnchor="middle" fontSize={10} fontWeight={700}>5 kb</text>
      <line x1={278} x2={308} y1={181} y2={181} stroke="#000" strokeWidth={1.2} />
      <line x1={278} x2={278} y1={178} y2={184} stroke="#000" />
      <line x1={308} x2={308} y1={178} y2={184} stroke="#000" />
      <text transform="translate(9,300) rotate(-90)" textAnchor="middle" fontSize={11}>CpG methylation</text>
      {bLabels.map((l, k) => (
        <text key={k} x={312} y={183 + k * TRACK_H + 14.5} fontSize={9.5} fontWeight={700}>
          {geneLabel(l)}
        </text>
      ))}
      {bracketTracks.map(([y1, y2, t, ty]: any) => (
        <g key={t}>
          <line x1={362} x2={362} y1={y1} y2={y2} stroke="#000" />
          <text x={366} y={ty} fontSize={10} fontWeight={700}>{t}</text>
        </g>
      ))}
      <text x={10} y={426} fontSize={10} fontWeight={700}>CGI</text>
      <text x={8} y={438} fontSize={10} fontWeight={700}>Genes</text>
      <text x={110} y={451} textAnchor="middle" fontSize={10} fontWeight={700} fontStyle="italic">Pax7</text>
      <text x={265} y={453} textAnchor="middle" fontSize={10} fontWeight={700} fontStyle="italic">XR_001784470.1</text>

      {/* c */}
      {letter(401, 162, "c")}
      <text transform="translate(414,230) rotate(-90)" textAnchor="middle" fontSize={11}>Mean methylation</text>
      <text transform="translate(464,170) rotate(-45)" textAnchor="middle" fontSize={10.5}>DMSO</text>
      <line x1={447} x2={467} y1={182} y2={182} stroke="#000" />
      <text x={503} y={177} textAnchor="middle" fontSize={10.5}>Recovery</text>
      <line x1={480} x2={527} y1={182} y2={182} stroke="#000" />
      <text x={491} y={297} textAnchor="middle" fontSize={11}>Days</text>
      <g fontSize={10}>
        <text x={543} y={217}>Feature</text>
        <Sw x={544} y={221} c={COL.hmd} s={6.5} />
        <text x={555} y={227.5}>HMD</text>
        <Sw x={544} y={231} c={COL.pmd} s={6.5} />
        <text x={555} y={237.5}>PMD</text>
        <Sw x={544} y={241} c={COL.hyp} s={6.5} />
        <text x={555} y={247.5}>Hyper CGIs</text>
      </g>
      <text x={639} y={275} textAnchor="middle" fontSize={10}>CpG methylation</text>
      <text x={639} y={287} textAnchor="middle" fontSize={10}>density</text>
      <rect x={623} y={293} width={33} height={8} fill="url(#cbar)" stroke="#000" strokeWidth={0.5} />
      <text x={624} y={309} textAnchor="middle" fontSize={9.5}>Low</text>
      <text x={655} y={309} textAnchor="middle" fontSize={9.5}>High</text>

      {/* d */}
      {letter(395, 322, "d")}
      <text x={558} y={317} textAnchor="middle" fontSize={10.5}>TSC 1 (WGBS)</text>
      <line x1={478} x2={642} y1={322} y2={322} stroke="#000" />
      <text transform="translate(403,387) rotate(-90)" textAnchor="middle" fontSize={11}>DNMT1i 7d</text>
      <text transform="translate(560,387) rotate(-90)" textAnchor="middle" fontSize={11}>DNMT1i 7d recovery 14d</text>
      <text x={480} y={468} textAnchor="middle" fontSize={11}>Untreated</text>
      <text x={639} y={468} textAnchor="middle" fontSize={11}>Untreated</text>

      {/* e */}
      {letter(4, 495, "e")}
      <text x={114} y={496} textAnchor="middle" fontSize={10.5}>TSC 1 (WGBS)</text>
      <text x={123} y={693} textAnchor="middle" fontSize={11}>Ratio methylation (DNMT1i / WT)</text>
      <g fontSize={9.5}>
        <text x={17} y={708}>Feature</text>
        {eCol1.map((y, i) => (
          <g key={`e1${i}`}>
            <Sw x={18} y={y - 7} c={eColors[i]} s={6.5} />
            <text x={28} y={y}>
              {eFeatures[i]} (<tspan fontStyle="italic">n</tspan> = {eCounts[i]})
            </text>
          </g>
        ))}
        {eCol2.map((y, j) => (
          <g key={`e2${j}`}>
            <Sw x={119.5} y={y - 7} c={eColors[j + 5]} s={6.5} />
            <text x={130} y={y}>
              {eFeatures[j + 5]} (<tspan fontStyle="italic">n</tspan> = {eCounts[j + 5]})
            </text>
          </g>
        ))}
      </g>

      {/* f */}
      {letter(198, 495, "f")}
      <g fontSize={10.5} textAnchor="middle">
        <text x={289} y={496}>TSC 1</text>
        <text x={340} y={496}>TSC 1</text>
        <text x={340} y={508}>early</text>
        <text x={391} y={496}>TSC 1</text>
        <text x={391} y={508}>late</text>
        <text x={441} y={496}>TSC 2</text>
      </g>
      <text x={263} y={524} textAnchor="end" fontSize={10}>Start passage</text>
      <g fontSize={10} textAnchor="middle">
        <text x={289} y={524}>17</text>
        <text x={340} y={524}>9</text>
        <text x={391} y={524}>37</text>
        <text x={441} y={524}>22</text>
      </g>
      <text transform="translate(207,592) rotate(-90)" textAnchor="middle" fontSize={11}>Density</text>
      <text x={366} y={692} textAnchor="middle" fontSize={11}>Mean methylation</text>
      <g fontSize={9.5}>
        <text x={337} y={707}>Feature</text>
        <Sw x={338} y={711} c="#a7dcd6" s={6.5} />
        <text x={349} y={718}>HMD</text>
        <Sw x={338} y={720.5} c="#35656e" s={6.5} />
        <text x={349} y={727.5}>PMD</text>
        <Sw x={338} y={730} c="#a6e85c" s={6.5} />
        <text x={349} y={737}>Hyper CGIs</text>
      </g>

      {/* g */}
      {letter(473, 495, "g")}
      <g fontSize={10.5} textAnchor="middle">
        <text x={537} y={497}>HMD</text>
        <text x={605} y={497}>PMD</text>
        <text x={673} y={497}>Hyper CGIs</text>
      </g>
      <text x={598} y={693} textAnchor="middle" fontSize={11}>Ratio methylation (DNMT1i / DMSO)</text>
      <g fontSize={9.5}>
        <text x={546} y={707}>Time point</text>
        <Sw x={546} y={711} c={COL.red} s={6.5} />
        <text x={557} y={718}>DNMT1i 7d</text>
        <Sw x={546} y={721} c={COL.purple} s={6.5} />
        <text x={557} y={728}>DNMT1i 7d recovery 14d</text>
      </g>
    </svg>
  );
}

export default function App() {
  return (
    <div style={{ position: "absolute", left: 0, top: 0, width: 707, height: 763, background: "#fff", fontFamily: FONT, overflow: "hidden" }}>
      <style>{`.recharts-surface{overflow:visible} .dmap .recharts-area-area{filter:blur(2.5px)}`}</style>
      <Pos l={0} t={0}>
        <ViolinPanel />
      </Pos>

      {bTracks.map((vals, k) => (
        <Pos key={k} l={0} t={183 + k * TRACK_H}>
          <Track vals={vals} color={bColors[k]} k={k} />
        </Pos>
      ))}
      <Pos l={0} t={420}>
        <CgiRow />
      </Pos>
      <Pos l={0} t={431}>
        <GeneRow />
      </Pos>

      <Pos l={395} t={183}>
        <BoxPanel />
      </Pos>

      <Pos l={400} t={332} cls="dmap">
        <DensityMap lo={dLeftLo} hi={dLeftHi} xDom={[-0.047, 1.019]} yDom={[-0.019, 1.019]} height={126} />
      </Pos>
      <Pos l={559} t={331} cls="dmap">
        <DensityMap lo={dRightLo} hi={dRightHi} xDom={[-0.018, 1.018]} yDom={[-0.019, 1.028]} height={128} />
      </Pos>

      <Pos l={0} t={512}>
        <ForestPanel />
      </Pos>

      <Pos l={186} t={518}>
        <RidgeCol dens={fTSC1} grid={fGrid} xDom={[-0.07, 1.03]} first />
      </Pos>
      <Pos l={313} t={518}>
        <RidgeCol dens={fTSC1early} grid={fGrid} xDom={[-0.07, 1.03]} />
      </Pos>
      <Pos l={364} t={518}>
        <RidgeCol dens={fTSC1late} grid={fGrid} xDom={[-0.07, 1.03]} />
      </Pos>
      <Pos l={415} t={518}>
        <RidgeCol dens={fTSC2} grid={fGrid4} xDom={[-0.11, 2.33]} />
      </Pos>

      <Pos l={460} t={517}>
        <RatioCol a={gHMD7d} b={gHMDrec} first />
      </Pos>
      <Pos l={570} t={517}>
        <RatioCol a={gPMD7d} b={gPMDrec} />
      </Pos>
      <Pos l={639} t={517}>
        <RatioCol a={gHYP7d} b={gHYPrec} />
      </Pos>

      <Overlay />
    </div>
  );
}
